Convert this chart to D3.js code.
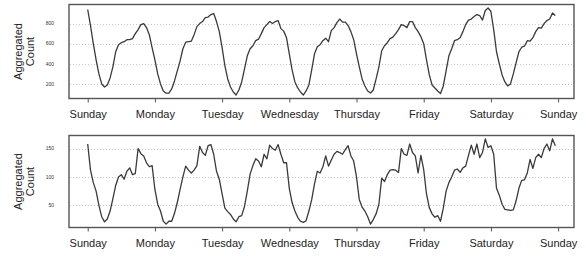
<!DOCTYPE html>
<html>
<head>
<meta charset="utf-8">
<script src="https://cdn.jsdelivr.net/npm/d3@7"></script>
<style>
    body { margin: 0; background: #fff; }
    svg { display: block; font-family: "Liberation Sans", Arial, sans-serif; }
</style>
</head>
<body>
<svg id="chart" width="586" height="258"></svg>
<script>
// tick labels along the week (one per day, hour 0, 24, ...)
const dayLabels = ['Sunday', 'Monday', 'Tuesday', 'Wednesday', 'Thursday', 'Friday', 'Saturday', 'Sunday'];

// hourly aggregated counts, top panel (hour 0..167)
const topCounts = [
    940, 780, 600, 440, 300, 200, 170, 190, 260, 370, 520, 590, 610, 620, 640, 640, 650, 700, 740, 790, 800, 760, 690, 560,
    440, 300, 200, 130, 108, 110, 150, 230, 330, 430, 550, 615, 620, 625, 690, 770, 800, 820, 860, 865, 890, 900, 820, 720,
    560, 380, 250, 170, 120, 90, 140, 220, 350, 480, 550, 580, 630, 645, 700, 760, 790, 820, 800, 820, 830, 750, 725, 660,
    500, 340, 220, 160, 120, 90, 130, 190, 340, 500, 570, 590, 630, 655, 620, 730, 760, 810, 845, 815, 815, 780, 720, 640,
    500, 370, 250, 180, 130, 110, 140, 250, 370, 530, 580, 610, 650, 665, 700, 740, 790, 780, 760, 820, 820, 760, 720, 670,
    600, 440, 290, 190, 160, 130, 105, 180, 330, 480, 550, 630, 640, 660, 720, 790, 835, 845, 870, 890, 880, 835, 930, 955,
    920, 740, 520, 400, 290, 220, 180, 200, 300, 410, 520, 565, 575, 630, 625, 660, 720, 760, 755, 800, 830, 845, 905, 880
];

// hourly aggregated counts, bottom panel (hour 0..167)
const bottomCounts = [
    158, 112, 90, 75, 50, 30, 21, 26, 40, 62, 85, 100, 104, 96, 110, 116, 104, 106, 150, 141, 137, 125, 118, 120,
    78, 52, 40, 22, 17, 22, 22, 36, 55, 78, 100, 119, 112, 107, 112, 120, 154, 143, 138, 155, 157, 140, 110, 96,
    70, 45, 39, 34, 26, 21, 30, 32, 48, 75, 105, 120, 132, 128, 118, 140, 132, 156, 150, 147, 157, 140, 125, 125,
    80, 55, 40, 29, 22, 20, 23, 40, 60, 88, 110, 107, 118, 137, 119, 130, 140, 145, 143, 140, 148, 155, 137, 128,
    100, 60, 47, 40, 30, 17, 25, 35, 52, 98, 92, 104, 112, 113, 112, 108, 150, 140, 138, 158, 143, 137, 107, 138,
    113, 70, 46, 35, 29, 32, 22, 45, 75, 90, 100, 112, 114, 108, 116, 119, 138, 156, 140, 158, 134, 143, 167, 152,
    155, 140, 80, 68, 52, 43, 42, 41, 42, 58, 80, 94, 95, 107, 131, 115, 134, 140, 134, 150, 158, 146, 167, 155
];

const topYTicks = [200, 400, 600, 800];
const bottomYTicks = [50, 100, 150];

const svg = d3.select('#chart');
const left = 69, right = 574;

function drawPanel(values, yTicks, top, bottom) {
    // R style: pad data range by 4% on each side
    const xExt = [0, values.length - 1];
    const xPad = (xExt[1] - xExt[0]) * 0.04;
    const x = d3.scaleLinear()
        .domain([xExt[0] - xPad, xExt[1] + xPad])
        .range([left, right]);

    const yExt = d3.extent(values);
    const yPad = (yExt[1] - yExt[0]) * 0.04;
    const y = d3.scaleLinear()
        .domain([yExt[0] - yPad, yExt[1] + yPad])
        .range([bottom, top]);

    const g = svg.append('g');

    // dotted grid lines
    g.selectAll('line.grid')
        .data(yTicks)
        .enter()
        .append('line')
        .attr('class', 'grid')
        .attr('x1', left + 1)
        .attr('x2', right - 1)
        .attr('y1', d => Math.round(y(d)) + 0.5)
        .attr('y2', d => Math.round(y(d)) + 0.5)
        .attr('stroke', '#c8c8c8')
        .attr('stroke-width', 1)
        .attr('stroke-dasharray', '1,2');

    // y tick labels (tiny, no tick marks)
    g.selectAll('text.ylab')
        .data(yTicks)
        .enter()
        .append('text')
        .attr('class', 'ylab')
        .attr('x', 54)
        .attr('y', d => y(d))
        .attr('dy', '0.35em')
        .attr('text-anchor', 'end')
        .attr('font-size', '5px')
        .attr('fill', '#333')
        .text(d => d);

    // the series line
    const line = d3.line()
        .x((d, i) => x(i))
        .y(d => y(d));

    g.append('path')
        .datum(values)
        .attr('d', line)
        .attr('fill', 'none')
        .attr('stroke', '#3a3a3a')
        .attr('stroke-width', 1.3)
        .attr('stroke-linejoin', 'round');

    // frame
    g.append('rect')
        .attr('x', left)
        .attr('y', top)
        .attr('width', right - left)
        .attr('height', bottom - top)
        .attr('fill', 'none')
        .attr('stroke', '#555')
        .attr('stroke-width', 1.4);

    // x axis with day ticks
    const hours = dayLabels.map((d, i) => i * 24);
    const xAxis = d3.axisBottom(x)
        .tickValues(hours)
        .tickSize(4)
        .tickSizeOuter(0)
        .tickFormat((d, i) => dayLabels[i]);

    const ax = g.append('g')
        .attr('transform', `translate(0,${bottom})`)
        .call(xAxis);
    ax.select('.domain').remove();
    ax.selectAll('.tick line').attr('stroke', '#555').attr('stroke-width', 1);
    ax.selectAll('.tick text')
        .attr('y', 12)
        .attr('font-size', '11px')
        .attr('font-family', '"Liberation Sans", Arial, sans-serif')
        .attr('fill', '#222');

    // y title on two lines
    const cy = (top + bottom) / 2;
    g.append('text')
        .attr('transform', `translate(22,${cy}) rotate(-90)`)
        .attr('text-anchor', 'middle')
        .attr('font-size', '11px')
        .attr('fill', '#222')
        .text('Aggregated');
    g.append('text')
        .attr('transform', `translate(34,${cy}) rotate(-90)`)
        .attr('text-anchor', 'middle')
        .attr('font-size', '11px')
        .attr('fill', '#222')
        .text('Count');
}

drawPanel(topCounts, topYTicks, 4.5, 98.5);
drawPanel(bottomCounts, bottomYTicks, 135.5, 227.5);
</script>
</body>
</html>
